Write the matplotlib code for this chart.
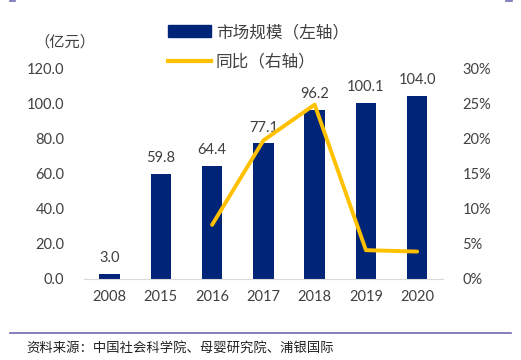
import numpy as np
import matplotlib.pyplot as plt
from matplotlib.lines import Line2D

plt.rcParams['font.family'] = ['Lato', 'Noto Sans CJK SC', 'DejaVu Sans']

YEARS = ['2008', '2015', '2016', '2017', '2018', '2019', '2020']
MARKET_SIZE = [3.0, 59.8, 64.4, 77.1, 96.2, 100.1, 104.0]
YOY = [np.nan, np.nan, 7.7, 19.7, 24.8, 4.1, 3.9]  # percent

BAR_COLOR = '#002478'
LINE_COLOR = '#FFC000'
TEXT_COLOR = '#404040'
RULE_COLOR = '#6E6AAE'

fig = plt.figure(figsize=(5.21, 3.6), dpi=100)
ax = fig.add_axes([0.161, 0.225, 0.689, 0.586])
ax2 = ax.twinx()

x = np.arange(len(YEARS))
ax.bar(x, MARKET_SIZE, width=0.4, color=BAR_COLOR, zorder=2)
for xi, v in zip(x, MARKET_SIZE):
    ax.text(xi, v + 5, f"{v:.1f}", ha='center', va='bottom', fontsize=10.5, color=TEXT_COLOR)

ax2.plot(x, YOY, color=LINE_COLOR, linewidth=2.8, solid_capstyle='round', zorder=3)

ax.set_xlim(-0.5, len(YEARS) - 0.5)
ax.set_ylim(0, 120)
ax.set_yticks(np.arange(0, 121, 20))
ax.set_yticklabels([f"{v:.1f}" for v in np.arange(0, 121, 20)])
ax2.set_ylim(0, 30)
ax2.set_yticks(np.arange(0, 31, 5))
ax2.set_yticklabels([f"{v}%" for v in range(0, 31, 5)])
ax.set_xticks(x)
ax.set_xticklabels(YEARS)

for a in (ax, ax2):
    for s in a.spines.values():
        s.set_visible(False)
    a.tick_params(length=0, labelsize=10.5, colors=TEXT_COLOR)
ax.spines['bottom'].set_visible(True)
ax.spines['bottom'].set_color('#D9D9D9')
ax.tick_params(axis='y', pad=14)
ax2.tick_params(axis='y', pad=14)
ax.tick_params(axis='x', pad=8)

fig.text(0.066, 0.883, '（亿元）', fontsize=11, color=TEXT_COLOR, va='center',
         family=['Noto Sans CJK SC'])

handles = [plt.Rectangle((0, 0), 1, 1, color=BAR_COLOR),
           Line2D([0], [0], color=LINE_COLOR, linewidth=3)]
fig.legend(handles, ['市场规模（左轴）', '同比（右轴）'], loc='upper left',
           bbox_to_anchor=(0.293, 0.975), frameon=False, handlelength=2.6,
           handleheight=0.7, handletextpad=0.3, labelspacing=0.75,
           prop={'family': 'Noto Sans CJK SC', 'size': 12}, labelcolor=TEXT_COLOR)

# source rule and footnote
fig.add_artist(Line2D([0.02, 0.98], [0.075, 0.075], color=RULE_COLOR, linewidth=1.2))
fig.add_artist(Line2D([0.02, 0.028], [0.997, 0.997], color=RULE_COLOR, linewidth=1.2))
fig.add_artist(Line2D([0.972, 0.982], [0.997, 0.997], color=RULE_COLOR, linewidth=1.2))
fig.text(0.05, 0.033, '资料来源：中国社会科学院、母婴研究院、浦银国际', fontsize=9.6,
         color='#222222', va='center', family=['Noto Sans CJK SC'])

fig.savefig('out.png', dpi=100)
